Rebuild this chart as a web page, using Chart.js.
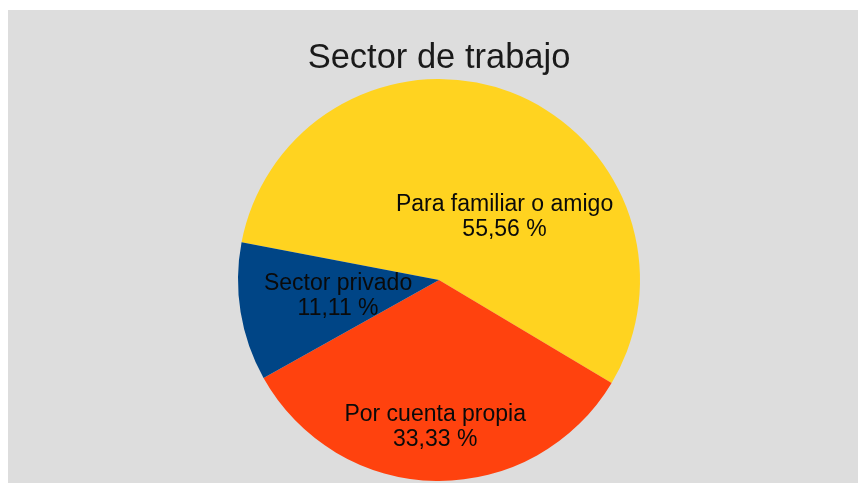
<!DOCTYPE html>
<html>
<head>
<meta charset="utf-8">
<script src="https://cdn.jsdelivr.net/npm/chart.js@4"></script>
<style>
  html, body { margin: 0; padding: 0; background: #ffffff; }
  #wrap { position: absolute; left: 8px; top: 10px; width: 850px; height: 473px; background: #dddddd; }
  canvas { display: block; }
</style>
</head>
<body>
<div id="wrap"><canvas id="c" width="850" height="473"></canvas></div>
<script>
const categories = ['Para familiar o amigo', 'Por cuenta propia', 'Sector privado'];
const values = [55.56, 33.33, 11.11];
const titleText = 'Sector de trabajo';

const colors = ['#ffd320', '#ff420e', '#004586'];
// label placement: fraction along the arc, fraction of radius
const labelAngleFrac = [0.641, 0.505, 0.41];
const labelRadiusFrac = [0.432, 0.766, 0.515];

const labelPlugin = {
  id: 'sliceLabels',
  afterDatasetsDraw(chart) {
    const ctx = chart.ctx;
    const meta = chart.getDatasetMeta(0);
    const data = chart.data.datasets[0].data;
    const total = data.reduce((a, b) => a + b, 0);
    ctx.save();
    ctx.font = '23px "Liberation Sans", Arial, sans-serif';
    ctx.fillStyle = '#0a0a0a';
    ctx.textAlign = 'center';
    ctx.textBaseline = 'alphabetic';
    meta.data.forEach((arc, i) => {
      const a = arc.startAngle + (arc.endAngle - arc.startAngle) * labelAngleFrac[i];
      const r = arc.outerRadius * labelRadiusFrac[i];
      const x = arc.x + Math.cos(a) * r;
      const y = arc.y + Math.sin(a) * r;
      const pct = (data[i] / total * 100).toFixed(2).replace('.', ',') + ' %';
      ctx.fillText(chart.data.labels[i], x, y - 12.5);
      ctx.fillText(pct, x, y + 12.5);
    });
    ctx.restore();
  }
};

new Chart(document.getElementById('c'), {
  type: 'pie',
  data: {
    labels: categories,
    datasets: [{
      data: values,
      backgroundColor: colors,
      borderWidth: 0,
      hoverOffset: 0
    }]
  },
  options: {
    responsive: false,
    animation: false,
    rotation: 280.8,
    layout: { padding: { left: 230, right: 218, top: 0, bottom: 2 } },
    plugins: {
      legend: { display: false },
      tooltip: { enabled: false },
      title: {
        display: true,
        text: titleText,
        color: '#1a1a1a',
        font: { family: '"Liberation Sans", Arial, sans-serif', size: 34.5, weight: 'normal', lineHeight: 1.15 },
        padding: { top: 28.5, bottom: 0.8 }
      }
    }
  },
  plugins: [labelPlugin]
});
</script>
</body>
</html>
